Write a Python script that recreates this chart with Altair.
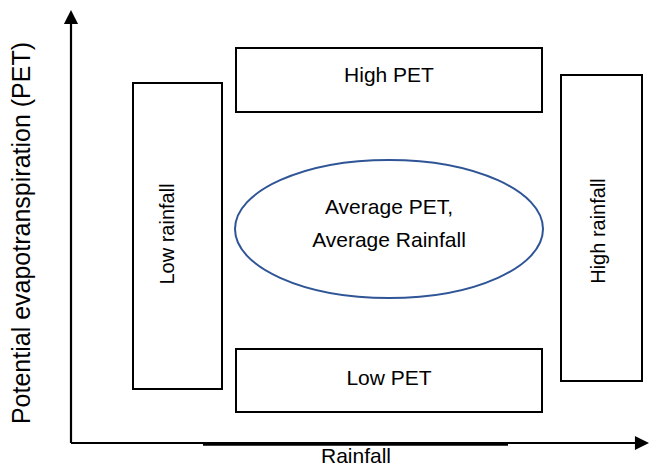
import altair as alt
import pandas as pd

# ---- diagram content (diagram units = reference pixels) ----
box_label = ["Low rainfall", "High PET", "Low PET", "High rainfall"]
box_x0 = [133, 236, 236, 561]
box_x1 = [222, 542, 542, 642]
box_y0 = [83, 48, 349, 75]
box_y1 = [389, 112, 412, 381]

h_text = ["High PET", "Low PET", "Average PET,", "Average Rainfall"]
h_text_x = [389, 389, 389, 389]
h_text_y = [76, 379, 208, 241]
h_text_size = [21, 21, 21, 21]

x_title = ["Rainfall"]
x_title_x = [356]
x_title_y = [467]

v_text = ["Low rainfall", "High rainfall", "Potential evapotranspiration (PET)"]
v_text_x = [168, 599, 22]
v_text_y = [234, 231, 233]
v_text_size = [20, 20, 25]

axis_x0 = [71, 71, 203]
axis_x1 = [71, 640, 508]
axis_y0 = [443, 443, 444]
axis_y1 = [22, 443, 444]
axis_w = [2.2, 2.2, 3.5]

ellipse_cx = [389]
ellipse_cy = [229]

W, H = 641, 459
xs = alt.Scale(domain=[8, 649], nice=False, zero=False)
ys = alt.Scale(domain=[8, 467], reverse=True, nice=False, zero=False)

boxes = pd.DataFrame({"label": box_label, "x0": box_x0, "x1": box_x1, "y0": box_y0, "y1": box_y1})
htext = pd.DataFrame({"t": h_text, "x": h_text_x, "y": h_text_y, "s": h_text_size})
xt = pd.DataFrame({"t": x_title, "x": x_title_x, "y": x_title_y})
vtext = pd.DataFrame({"t": v_text, "x": v_text_x, "y": v_text_y, "s": v_text_size})
axes = pd.DataFrame({"x0": axis_x0, "x1": axis_x1, "y0": axis_y0, "y1": axis_y1, "w": axis_w})
ell = pd.DataFrame({"x": ellipse_cx, "y": ellipse_cy})
arrows_up = pd.DataFrame({"x": [71], "y": [17]})
arrows_right = pd.DataFrame({"x": [642], "y": [443]})

FONT = "Liberation Sans"

rects = alt.Chart(boxes).mark_rect(fill="white", stroke="black", strokeWidth=2).encode(
    x=alt.X("x0:Q", scale=xs, axis=None), x2="x1:Q",
    y=alt.Y("y0:Q", scale=ys, axis=None), y2="y1:Q",
)

axis_lines = alt.Chart(axes).mark_rule(color="black").encode(
    x=alt.X("x0:Q", scale=xs, axis=None), x2="x1:Q",
    y=alt.Y("y0:Q", scale=ys, axis=None), y2="y1:Q",
    strokeWidth=alt.StrokeWidth("w:Q", scale=None, legend=None),
)

k = 0.5523
ry = 138 / 308
ell_path = (
    f"M-1,0C-1,{-ry*k:.4f},{-k:.4f},{-ry:.4f},0,{-ry:.4f}"
    f"C{k:.4f},{-ry:.4f},1,{-ry*k:.4f},1,0"
    f"C1,{ry*k:.4f},{k:.4f},{ry:.4f},0,{ry:.4f}"
    f"C{-k:.4f},{ry:.4f},-1,{ry*k:.4f},-1,0Z"
)
ellipse = alt.Chart(ell).mark_point(
    shape=ell_path, filled=False, stroke="#2F5597", strokeWidth=2, opacity=1
).encode(
    x=alt.X("x:Q", scale=xs, axis=None), y=alt.Y("y:Q", scale=ys, axis=None),
    size=alt.value(308 ** 2),
)

arrow_up = alt.Chart(arrows_up).mark_point(
    shape="M0,-1L1,1L-1,1Z", filled=True, color="black", opacity=1
).encode(
    x=alt.X("x:Q", scale=xs, axis=None), y=alt.Y("y:Q", scale=ys, axis=None),
    size=alt.value(200),
)
arrow_right = alt.Chart(arrows_right).mark_point(
    shape="M1,0L-1,-1L-1,1Z", filled=True, color="black", opacity=1
).encode(
    x=alt.X("x:Q", scale=xs, axis=None), y=alt.Y("y:Q", scale=ys, axis=None),
    size=alt.value(200),
)

htexts = alt.Chart(htext).mark_text(font=FONT, color="black", align="center", baseline="middle").encode(
    x=alt.X("x:Q", scale=xs, axis=None), y=alt.Y("y:Q", scale=ys, axis=None),
    text="t:N", size=alt.Size("s:Q", scale=None, legend=None),
)
xtitle = alt.Chart(xt).mark_text(font=FONT, color="black", align="center", baseline="bottom", fontSize=21).encode(
    x=alt.X("x:Q", scale=xs, axis=None), y=alt.Y("y:Q", scale=ys, axis=None),
    text="t:N",
)
vtexts = alt.Chart(vtext).mark_text(font=FONT, color="black", align="center", baseline="middle", angle=270).encode(
    x=alt.X("x:Q", scale=xs, axis=None), y=alt.Y("y:Q", scale=ys, axis=None),
    text="t:N", size=alt.Size("s:Q", scale=None, legend=None),
)

chart = alt.layer(
    axis_lines, rects, ellipse, arrow_up, arrow_right, htexts, xtitle, vtexts
).properties(
    width=W, height=H, padding=0,
    autosize=alt.AutoSizeParams(type="none"),
    background="white",
).configure_view(stroke=None)

chart.save("out.html", embed_options={"renderer": "svg", "actions": False})
